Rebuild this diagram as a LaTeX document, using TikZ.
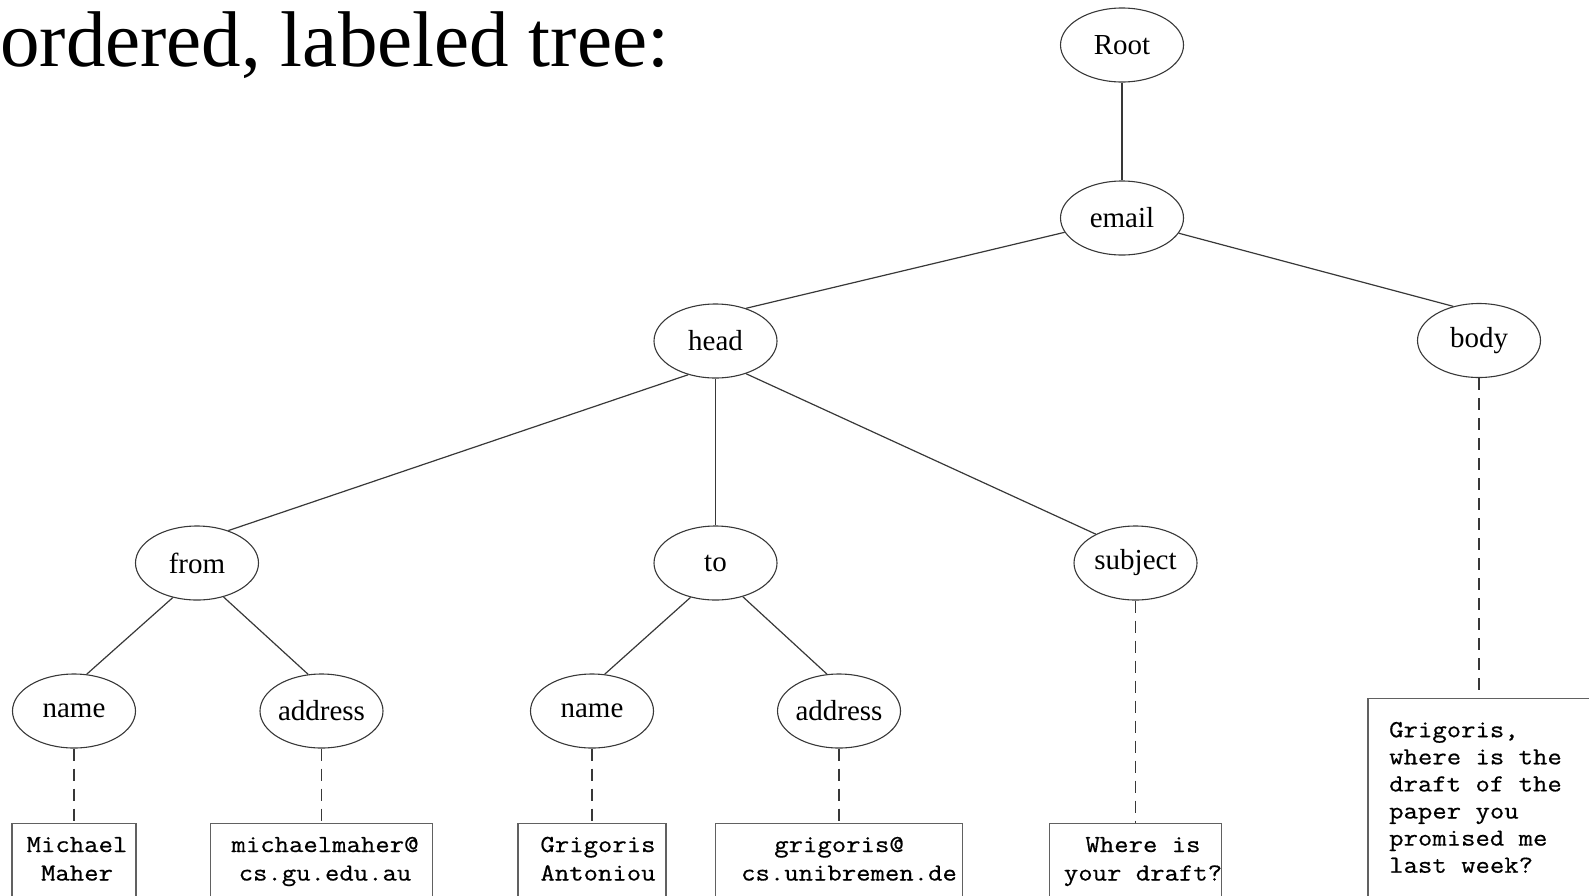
\documentclass[tikz,border=0pt]{standalone}
\usepackage{fontspec}
\setmainfont{Liberation Serif}
\setmonofont[FakeStretch=1.14,FakeBold=0.6]{Latin Modern Mono}
\usetikzlibrary{shapes.geometric}

\begin{document}
\begin{tikzpicture}[x=1pt,y=-1pt,
  treenode/.style={ellipse, draw=black!78, line width=1.1pt,
    minimum width=123pt, minimum height=74pt, inner sep=0pt,
    font=\fontsize{29}{34}\selectfont},
  edge/.style={draw=black!78, line width=1.2pt},
  leafedge/.style={draw=black!78, line width=1.2pt, dash pattern=on 12pt off 8pt},
  leafbox/.style={rectangle, draw=black!62, line width=1.4pt, anchor=north,
    minimum height=140pt, inner sep=0pt},
  leaftext/.style={font=\ttfamily\fontsize{24.5}{28.5}\selectfont,
    align=center, anchor=base, inner sep=0pt},
  bodytext/.style={font=\ttfamily\fontsize{24.5}{27.1}\selectfont,
    align=left, anchor=base west, inner sep=0pt},
]
\useasboundingbox (0,0) rectangle (1589,895);

% heading
\node[anchor=base west, inner sep=0pt, font=\fontsize{79}{90}\selectfont]
  (title) at (0,66) {ordered, labeled tree:};

% element nodes
\node[treenode] (root)    at (1122,45)    {Root};
\node[treenode] (email)   at (1122,218)   {email};
\node[treenode] (head)    at (715.5,341)  {head};
\node[treenode] (body)    at (1479,340.5) {body};
\node[treenode] (from)    at (197,563)    {from};
\node[treenode] (to)      at (715.5,563)  {to};
\node[treenode] (subject) at (1135.5,563) {subject};
\node[treenode] (fname)   at (74,711)     {name};
\node[treenode] (faddr)   at (321.5,711)  {address};
\node[treenode] (tname)   at (592,711)    {name};
\node[treenode] (taddr)   at (839,711)    {address};

% text content boxes
\node[leafbox, minimum width=124pt] (fnamebox) at (fname |- 0,823) {};
\node[leafbox, minimum width=222pt] (faddrbox) at (faddr |- 0,823) {};
\node[leafbox, minimum width=148pt] (tnamebox) at (tname |- 0,823) {};
\node[leafbox, minimum width=247pt] (taddrbox) at (taddr |- 0,823) {};
\node[leafbox, minimum width=172pt] (subjbox)  at (subject |- 0,823) {};
\node[leafbox, minimum width=222pt, minimum height=260pt] (bodybox) at (body |- 0,698) {};

% texts are placed by the baseline of their last line
\node[leaftext] (fnametext) at (77,880.5)   {Michael\\Maher};
\node[leaftext] (faddrtext) at (325,880.5)  {michaelmaher@\\cs.gu.edu.au};
\node[leaftext] (tnametext) at (598,880.5)  {Grigoris\\Antoniou};
\node[leaftext] (taddrtext) at (849,880.5)  {\hspace*{-20pt}grigoris@\\cs.unibremen.de};
\node[leaftext] (subjtext)  at (1143,880.5) {Where is\\your draft?};
\node[bodytext] (bodytxt)   at (1389,872.7)
  {Grigoris,\\where is the\\draft of the\\paper you\\promised me\\last week?};

% tree edges
\draw[edge] (root.south) -- (email.north);
\draw[edge] (email.194) -- (head.47);
\draw[edge] (email.345) -- (body.127);
\draw[edge] (head.231) -- (from.46);
\draw[edge] (head.south) -- (to.north);
\draw[edge] (head.313) -- (subject.144);
\draw[edge] (from.235) -- (fname.71);
\draw[edge] (from.308) -- (faddr.110);
\draw[edge] (to.234) -- (tname.71);
\draw[edge] (to.309) -- (taddr.108);

% links to text content
\draw[leafedge] (fname.south) -- (fnamebox.north);
\draw[leafedge] (faddr.south) -- (faddrbox.north);
\draw[leafedge] (tname.south) -- (tnamebox.north);
\draw[leafedge] (taddr.south) -- (taddrbox.north);
\draw[leafedge] (subject.south) -- (subjbox.north);
\draw[leafedge] (body.south) -- (bodybox.north);
\end{tikzpicture}
\end{document}
